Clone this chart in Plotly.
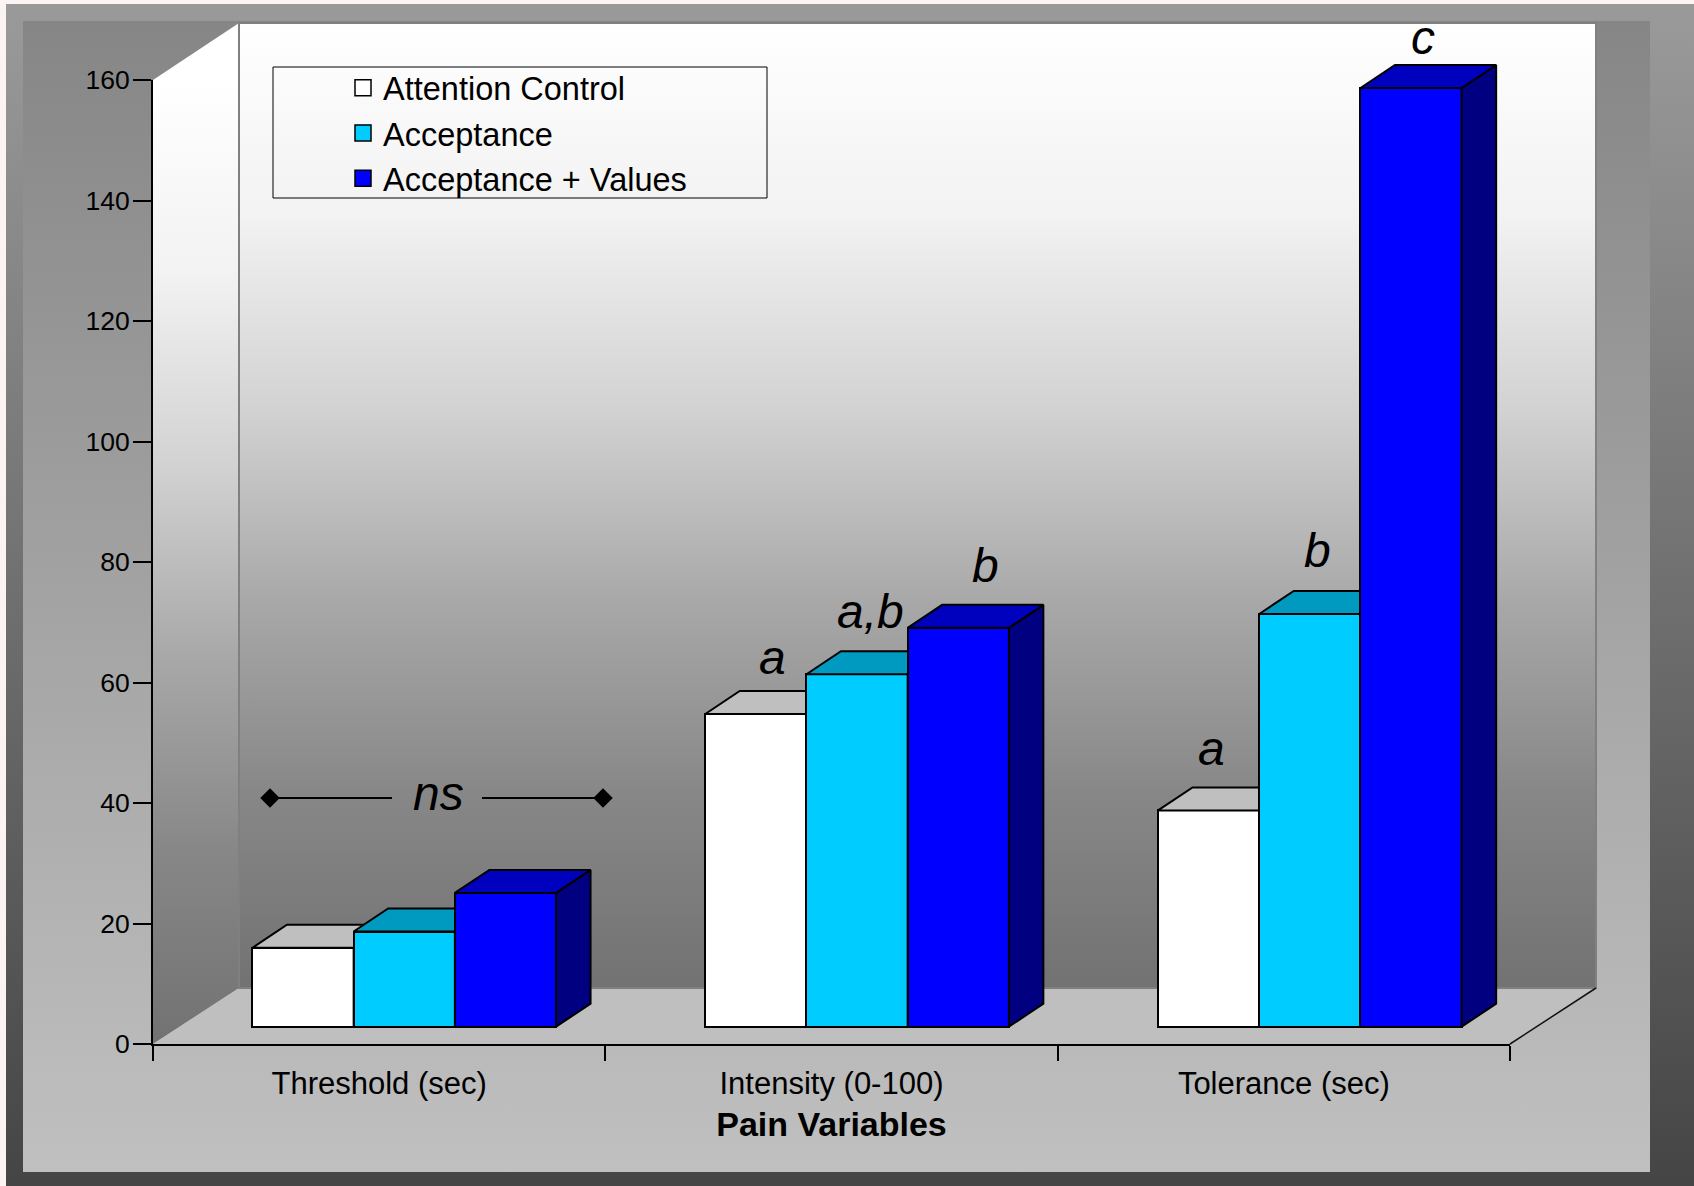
import plotly.graph_objects as go

W, H = 1694, 1186
FONT = "Liberation Sans"

categories = ["Threshold (sec)", "Intensity (0-100)", "Tolerance (sec)"]
series_names = ["Attention Control", "Acceptance", "Acceptance + Values"]
attention_control = [13.1, 51.9, 35.9]
acceptance = [15.8, 58.5, 68.5]
acceptance_values = [22.2, 66.2, 155.8]
y_ticks = [0, 20, 40, 60, 80, 100, 120, 140, 160]

front_colors = ["#ffffff", "#00ccff", "#0000ff"]
top_colors = ["#bfbfbf", "#0099bf", "#0000bf"]
side_colors = ["#808080", "#006680", "#000080"]

# geometry of the page (pixels)
AX_L, AX_R, AX_T, AX_B = 153, 1510, 80, 1044
WALL_L, WALL_R, WALL_T, WALL_B = 239, 1596, 23, 988
BAR_BASE = 1026.7
UNIT_Y = (AX_B - AX_T) / 160
UNIT_X = 452.8
X0_PX = 177.85
BAR_W = 101.2 / UNIT_X
DEPTH_X = 34.5 / UNIT_X
DEPTH_Y = 23 / UNIT_Y

WALL_SCALE = [[0, "#ffffff"], [0.2, "#f2f2f2"], [0.4, "#d2d2d2"], [0.6, "#a8a8a8"], [0.8, "#878787"], [1, "#727272"]]

fig = go.Figure()


def poly(xs, ys, fill=None, grad=None, line=None, lw=0, xa="x", ya="y"):
    kw = dict(x=xs, y=ys, mode="lines", fill="toself", hoverinfo="skip",
              showlegend=False, xaxis=xa, yaxis=ya,
              line=dict(color=line or "rgba(0,0,0,0)", width=lw))
    if grad:
        kw["fillgradient"] = dict(type="vertical", start=grad[0], stop=grad[1], colorscale=grad[2])
    else:
        kw["fillcolor"] = fill
    fig.add_trace(go.Scatter(**kw))


# page frame, panel, walls, floor
poly([6, W, W, 6, 6], [4, 4, H, H, 4], grad=(4, H, [[0, "#9a9a9a"], [1, "#454545"]]))
poly([23, 1650, 1650, 23, 23], [21, 21, 1172, 1172, 21], grad=(21, 1172, [[0, "#868686"], [1, "#c0c0c0"]]))
poly([AX_L, WALL_L, WALL_L, AX_L, AX_L], [AX_T, WALL_T, WALL_B, AX_B, AX_T], grad=(AX_T, AX_B, WALL_SCALE))
poly([AX_L, WALL_L, WALL_R, AX_R, AX_L], [AX_B, WALL_B, WALL_B, AX_B, AX_B], fill="#bfbfbf")
poly([WALL_L, WALL_R, WALL_R, WALL_L, WALL_L], [WALL_T, WALL_T, WALL_B, WALL_B, WALL_T],
     grad=(WALL_T, WALL_B, WALL_SCALE), line="#808080", lw=2)
fig.add_trace(go.Scatter(x=[AX_R, WALL_R], y=[AX_B, WALL_B], mode="lines", showlegend=False,
                         hoverinfo="skip", line=dict(color="#111111", width=1.5)))

# legend frame
fig.add_trace(go.Scatter(x=[273, 767, 767, 273, 273], y=[67, 67, 198, 198, 67], mode="lines", showlegend=False,
                         hoverinfo="skip", line=dict(color="black", width=1)))

# "ns" bracket
for xs in ([270, 392], [482, 603]):
    fig.add_trace(go.Scatter(x=xs, y=[798, 798], mode="lines", showlegend=False, hoverinfo="skip",
                             line=dict(color="black", width=2)))
fig.add_trace(go.Scatter(x=[270, 603], y=[798, 798], mode="markers", showlegend=False, hoverinfo="skip",
                         marker=dict(symbol="diamond", size=15, color="black")))

# legend entries
for name, color in zip(series_names, front_colors):
    fig.add_trace(go.Scatter(x=[None], y=[None], mode="markers", name=name,
                             marker=dict(symbol="square", size=16, color=color,
                                         line=dict(color="black", width=1.5))))

# main axes keep an empty trace so they are drawn
fig.add_trace(go.Scatter(x=[0, 3], y=[0, 160], mode="lines", xaxis="x2", yaxis="y2", showlegend=False,
                         hoverinfo="skip", line=dict(color="rgba(0,0,0,0)")))

# bars, painter's order: one stacked subplot per series
all_values = [attention_control, acceptance, acceptance_values]
for k, values in enumerate(all_values):
    xa, ya = f"x{k + 3}", f"y{k + 3}"
    centers = [i + 0.5 + (k - 1) * BAR_W for i in range(len(values))]
    fig.add_trace(go.Bar(x=centers, y=values, width=BAR_W, name=series_names[k], showlegend=False,
                         xaxis=xa, yaxis=ya,
                         marker=dict(color=front_colors[k], line=dict(color="black", width=2))))
    for c, v in zip(centers, values):
        x0, x1 = c - BAR_W / 2, c + BAR_W / 2
        poly([x1, x1 + DEPTH_X, x1 + DEPTH_X, x1, x1], [0, DEPTH_Y, v + DEPTH_Y, v, 0],
             fill=side_colors[k], line="black", lw=2, xa=xa, ya=ya)
        poly([x0, x0 + DEPTH_X, x1 + DEPTH_X, x1, x0], [v, v + DEPTH_Y, v + DEPTH_Y, v, v],
             fill=top_colors[k], line="black", lw=2, xa=xa, ya=ya)

hidden = dict(visible=False, fixedrange=True)
layout = dict(
    width=W, height=H, margin=dict(l=0, r=0, t=0, b=0, autoexpand=False), autosize=False,
    paper_bgcolor="#fbf4f2", plot_bgcolor="rgba(0,0,0,0)",
    font=dict(family=FONT, color="black"), bargap=0,
    xaxis=dict(range=[0, W], domain=[0, 1], **hidden),
    yaxis=dict(range=[H, 0], domain=[0, 1], **hidden),
    xaxis2=dict(
        range=[0, 3], domain=[AX_L / W, AX_R / W], anchor="y2", fixedrange=True,
        showgrid=False, zeroline=False, showline=True, linecolor="black", linewidth=2,
        tickmode="array", tickvals=[0.5, 1.5, 2.5], ticktext=categories, ticks="",
        tickfont=dict(size=31), ticklabelstandoff=11,
        minor=dict(tickmode="array", tickvals=[0, 1, 2, 3], ticks="outside", ticklen=15, tickwidth=1.5,
                   tickcolor="black", showgrid=False),
        title=dict(text="<b>Pain Variables</b>", font=dict(size=34), standoff=12),
    ),
    yaxis2=dict(
        range=[0, 160], domain=[1 - AX_B / H, 1 - AX_T / H], anchor="x2", fixedrange=True,
        showgrid=False, zeroline=False, showline=True, linecolor="black", linewidth=2,
        tickmode="array", tickvals=y_ticks, ticks="outside", ticklen=18, tickwidth=1.5, tickcolor="black",
        tickfont=dict(size=26.5), ticklabelstandoff=-2,
    ),
    legend=dict(x=273 / W, y=1 - 60 / H, xanchor="left", yanchor="top", bgcolor="rgba(0,0,0,0)",
                borderwidth=0, font=dict(size=32.5), indentation=70,
                entrywidth=417, entrywidthmode="pixels", itemsizing="trace", traceorder="normal",
                itemclick=False, itemdoubleclick=False),
    showlegend=True,
)
for k in range(3):
    layout[f"xaxis{k + 3}"] = dict(range=[-X0_PX / UNIT_X, (W - X0_PX) / UNIT_X], domain=[0, 1], anchor=f"y{k + 3}", **hidden)
    layout[f"yaxis{k + 3}"] = dict(range=[-(H - BAR_BASE) / UNIT_Y, BAR_BASE / UNIT_Y], domain=[0, 1], anchor=f"x{k + 3}", **hidden)
fig.update_layout(**layout)

labels = [("c", 1423, 37), ("b", 1317, 550), ("a", 1211, 748), ("b", 985, 565),
          ("a,b", 870, 611), ("a", 772, 657), ("ns", 438, 793)]
for text, x, y in labels:
    fig.add_annotation(x=x, y=y, xref="x", yref="y", text=f"<i>{text}</i>", showarrow=False,
                       font=dict(size=48, color="black"))

fig.write_html("out.html", config=dict(displayModeBar=False),
               post_script="document.body.style.margin='0';document.documentElement.style.overflow='hidden';")
